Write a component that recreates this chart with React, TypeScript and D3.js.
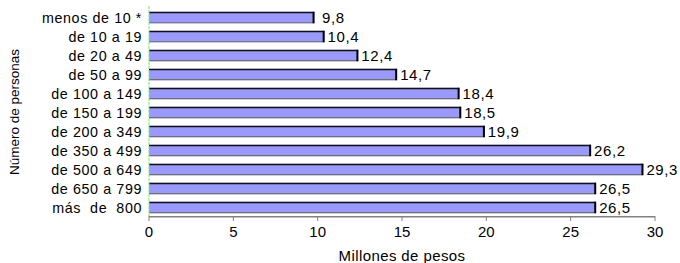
import React from 'react';
import * as d3 from 'd3';

const categories = [
  'menos de 10 *',
  'de 10 a 19',
  'de 20 a 49',
  'de 50 a 99',
  'de 100 a 149',
  'de 150 a 199',
  'de 200 a 349',
  'de 350 a 499',
  'de 500 a 649',
  'de 650 a 799',
  'más  de  800',
];
const values = [9.8, 10.4, 12.4, 14.7, 18.4, 18.5, 19.9, 26.2, 29.3, 26.5, 26.5];
const valueLabels = ['9,8', '10,4', '12,4', '14,7', '18,4', '18,5', '19,9', '26,2', '29,3', '26,5', '26,5'];
const xTicks = [0, 5, 10, 15, 20, 25, 30];

const W = 680;
const H = 263;
const left = 149;
const right = 655;
const top = 9;
const bottom = 216;
const font = 'Arial, "Liberation Sans", sans-serif';

const App = () => {
  const x = d3.scaleLinear().domain([0, 30]).range([left, right]);
  const y = d3.scaleBand<string>().domain(categories).range([top, bottom]).paddingInner(0.4).paddingOuter(0.15);
  const bh = y.bandwidth();

  return (
    <svg width={W} height={H} style={{ position: 'absolute', left: 0, top: 0 }} fontFamily={font}>
      <rect width={W} height={H} fill="#fff" />
      {categories.map((c, i) => {
        const y0 = y(c)!;
        const x1 = x(values[i]);
        return (
          <g key={c}>
            <rect x={left} y={y0} width={x1 - left} height={bh} fill="#9999ff" />
            <line x1={left} x2={x1} y1={y0 + 0.75} y2={y0 + 0.75} stroke="#111" strokeWidth={1.5} />
            <line x1={left} x2={x1} y1={y0 + bh - 0.5} y2={y0 + bh - 0.5} stroke="#707070" strokeWidth={1.2} />
            <line x1={x1 - 0.75} x2={x1 - 0.75} y1={y0} y2={y0 + bh} stroke="#000" strokeWidth={2} />
            <text
              x={x1 + 19}
              y={y0 + bh / 2}
              dy="0.36em"
              fontSize={15}
              letterSpacing={0.6}
              textAnchor="middle"
              fill="#000"
            >
              {valueLabels[i]}
            </text>
            <text
              x={142}
              y={y0 + bh / 2}
              dy="0.36em"
              fontSize={14.3}
              letterSpacing={0.6}
              textAnchor="end"
              fill="#000"
              style={{ whiteSpace: 'pre' }}
            >
              {c}
            </text>
          </g>
        );
      })}
      <line x1={left} x2={left} y1={6} y2={bottom} stroke="#66ee66" strokeWidth={1} strokeDasharray="3,1" />
      <line x1={left} x2={right} y1={bottom + 0.75} y2={bottom + 0.75} stroke="#808080" strokeWidth={1.5} />
      {xTicks.map((t) => (
        <g key={t}>
          <line x1={x(t)} x2={x(t)} y1={bottom} y2={bottom + 5} stroke="#808080" strokeWidth={1} />
          <text x={x(t)} y={237} textAnchor="middle" fontSize={15} fill="#000">
            {t}
          </text>
        </g>
      ))}
      <text x={402} y={260.5} textAnchor="middle" fontSize={15} letterSpacing={0.4} fill="#000">
        Millones de pesos
      </text>
      <text
        transform="translate(14,112) rotate(-90)"
        dy="0.35em"
        textAnchor="middle"
        fontSize={13.5}
        fill="#000"
      >
        Número de personas
      </text>
    </svg>
  );
};

export default App;
